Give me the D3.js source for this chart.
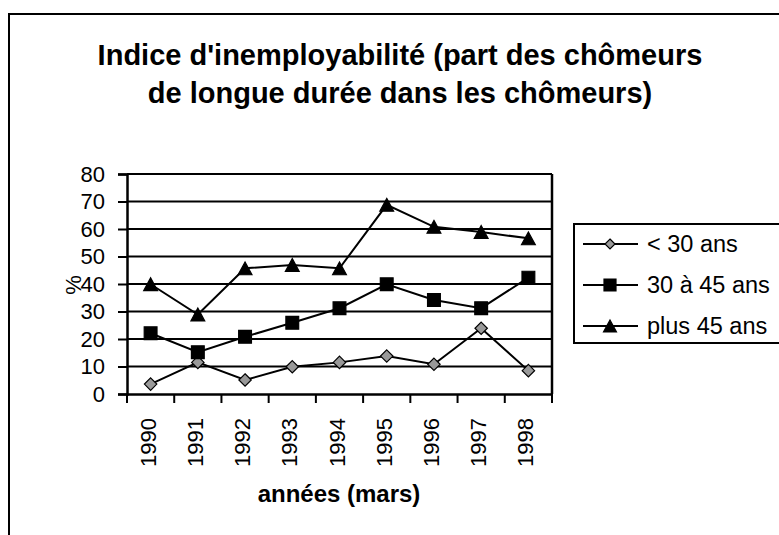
<!DOCTYPE html>
<html><head><meta charset="utf-8">
<script src="https://cdn.jsdelivr.net/npm/d3@7"></script>
<style>body{margin:0;background:#fff}svg{display:block;font-family:"Liberation Sans",Arial,sans-serif}</style>
</head><body><svg id="c" width="779" height="535"></svg>
<script>
const years = ["1990","1991","1992","1993","1994","1995","1996","1997","1998"];
const under30 = [3.6, 11.5, 5.1, 9.9, 11.5, 13.8, 10.8, 23.9, 8.5];
const from30to45 = [22.1, 15.2, 20.8, 25.9, 31.2, 39.9, 34.2, 31.2, 42.3];
const over45 = [39.9, 28.9, 45.7, 46.9, 45.7, 68.8, 60.8, 58.9, 56.6];
const seriesNames = ["< 30 ans", "30 à 45 ans", "plus 45 ans"];
const yTicks = [0,10,20,30,40,50,60,70,80];
const titleLines = ["Indice d'inemployabilité (part des chômeurs", "de longue durée dans les chômeurs)"];
const xTitle = "années (mars)";
const yTitle = "%";

const svg = d3.select("#c");
// outer frame
svg.append("rect").attr("x",9).attr("y",14).attr("width",800).attr("height",600)
  .attr("fill","none").attr("stroke","#000").attr("stroke-width",2);

const L=127, R=552, T=174, B=394;
const x = d3.scaleBand().domain(years).range([L,R]);
const y = d3.scaleLinear().domain([0,80]).range([B,T]);
const cx = d => x(d)+x.bandwidth()/2;

// gridlines
svg.append("g").selectAll("line").data(yTicks.filter(d=>d>0)).join("line")
  .attr("x1",L).attr("x2",R).attr("y1",d=>y(d)).attr("y2",d=>y(d))
  .attr("stroke","#000").attr("stroke-width",2);
svg.append("line").attr("x1",R).attr("x2",R).attr("y1",T).attr("y2",B)
  .attr("stroke","#000").attr("stroke-width",2.5);

// y axis
const ya = svg.append("g").attr("transform",`translate(${L},0)`)
  .call(d3.axisLeft(y).tickValues(yTicks).tickSize(9).tickPadding(13).tickFormat(d3.format("d")));
ya.select(".domain").attr("stroke-width",2.5);
ya.selectAll(".tick line").attr("stroke-width",2);
ya.selectAll("text").attr("font-size",22).attr("font-family","Liberation Sans, Arial, sans-serif").attr("fill","#000");

// x axis
const xa = svg.append("g").attr("transform",`translate(0,${B})`)
  .call(d3.axisBottom(x).tickSize(0).tickFormat(""));
xa.select(".domain").attr("stroke-width",2.5);
const tickPos = d3.range(years.length+1).map(i=>L+i*x.step());
svg.append("g").selectAll("line").data(tickPos).join("line")
  .attr("x1",d=>d).attr("x2",d=>d).attr("y1",B).attr("y2",B+9)
  .attr("stroke","#000").attr("stroke-width",2);
svg.append("g").selectAll("text").data(years).join("text")
  .attr("transform",d=>`translate(${cx(d)+5},${B+24}) rotate(-90)`)
  .attr("text-anchor","end").attr("font-size",22).text(d=>d);

// titles
svg.append("g").selectAll("text").data(titleLines).join("text")
  .attr("x",400).attr("y",(d,i)=>65+i*38).attr("text-anchor","middle")
  .attr("font-size",29).attr("font-weight","bold").text(d=>d);
svg.append("text").attr("x",339).attr("y",502).attr("text-anchor","middle")
  .attr("font-size",24).attr("font-weight","bold").text(xTitle);
svg.append("text").attr("transform","translate(81,285) rotate(-90)").attr("text-anchor","middle")
  .attr("font-size",22).text(yTitle);

// markers
const diamond = s => `M0,${-s}L${s},0L0,${s}L${-s},0Z`;
const square = s => `M${-s},${-s}H${s}V${s}H${-s}Z`;
const triangle = s => `M0,${-s}L${s*1.08},${s}L${-s*1.08},${s}Z`;
const markers = [diamond(6.2), square(6.4), triangle(6.4)];
const legMarkers = [diamond(5), square(6), triangle(6)];
const fills = ["#999999","#000","#000"];

const data = [under30, from30to45, over45];
const line = d3.line().x((d,i)=>cx(years[i])).y(d=>y(d));
data.forEach((s,k)=>{
  svg.append("path").datum(s).attr("d",line).attr("fill","none").attr("stroke","#000").attr("stroke-width",2);
  svg.append("g").selectAll("path").data(s).join("path")
    .attr("transform",(d,i)=>`translate(${cx(years[i])},${y(d)})`)
    .attr("d",markers[k]).attr("fill",fills[k]).attr("stroke","#000").attr("stroke-width",1.2);
});

// legend
const lg = svg.append("g");
lg.append("rect").attr("x",574).attr("y",224).attr("width",300).attr("height",119)
  .attr("fill","#fff").attr("stroke","#000").attr("stroke-width",2);
seriesNames.forEach((n,k)=>{
  const yy = 244 + k*41;
  lg.append("line").attr("x1",583).attr("x2",638).attr("y1",yy).attr("y2",yy).attr("stroke","#000").attr("stroke-width",2);
  lg.append("path").attr("transform",`translate(610,${yy})`).attr("d",legMarkers[k]).attr("fill",fills[k]).attr("stroke","#000").attr("stroke-width",1.2);
  lg.append("text").attr("x",647).attr("y",yy+8).attr("font-size",23.5).text(n);
});
</script></body></html>
